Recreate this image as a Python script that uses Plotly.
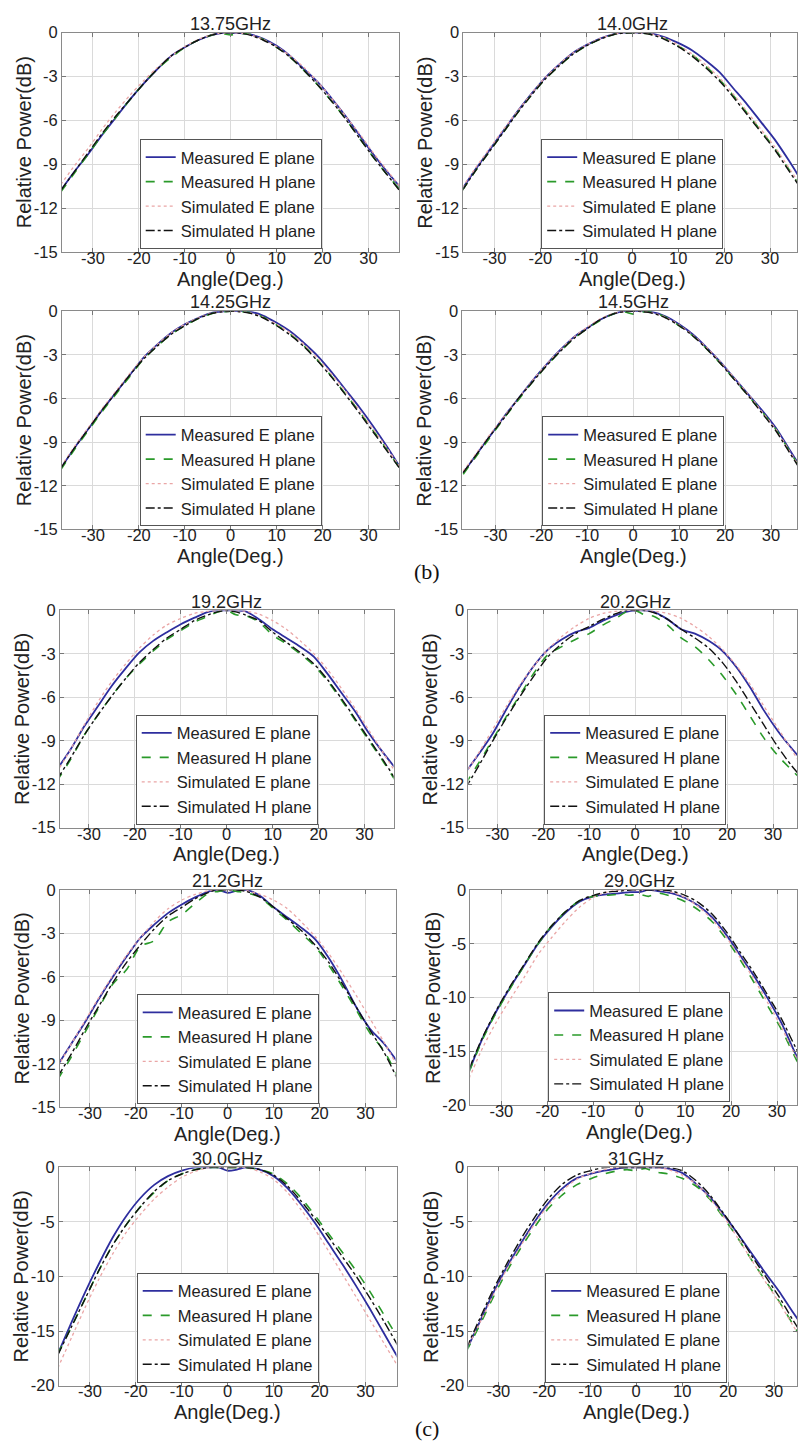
import plotly.graph_objects as go

W, H = 798, 1450

# ---------------- data ----------------
angles = [-37, -34, -31, -28, -25, -22, -19, -16, -13, -10, -7, -4, -2, 0,
          2, 4, 7, 10, 13, 16, 19, 22, 25, 28, 31, 34, 37]

freq_labels = ["13.75GHz", "14.0GHz", "14.25GHz", "14.5GHz", "19.2GHz",
               "20.2GHz", "21.2GHz", "29.0GHz", "30.0GHz", "31GHz"]

series_names = ["Measured E plane", "Measured H plane",
                "Simulated E plane", "Simulated H plane"]

x_ticks = [-30, -20, -10, 0, 10, 20, 30]
y_ticks_15 = [0, -3, -6, -9, -12, -15]
y_ticks_20 = [0, -5, -10, -15, -20]

# 13.75 GHz
me_1375 = [-10.8, -9.5, -8.3, -7.0, -5.8, -4.6, -3.5, -2.5, -1.6, -1.0, -0.5, -0.15, -0.02, 0, -0.02, -0.1, -0.4, -0.9, -1.6, -2.5, -3.4, -4.5, -5.7, -7.0, -8.3, -9.5, -10.6]
mh_1375 = [-10.9, -9.6, -8.3, -7.0, -5.8, -4.6, -3.5, -2.5, -1.7, -1.0, -0.5, -0.15, -0.05, -0.15, -0.05, -0.1, -0.45, -1.0, -1.7, -2.6, -3.6, -4.7, -5.9, -7.2, -8.5, -9.7, -10.8]
se_1375 = [-10.4, -9.1, -7.9, -6.6, -5.4, -4.3, -3.3, -2.4, -1.6, -0.95, -0.45, -0.12, -0.02, 0, -0.02, -0.12, -0.45, -0.95, -1.6, -2.4, -3.4, -4.5, -5.7, -6.9, -8.2, -9.4, -10.6]
sh_1375 = [-10.8, -9.5, -8.2, -6.9, -5.7, -4.6, -3.5, -2.5, -1.6, -1.0, -0.5, -0.15, -0.03, 0, -0.03, -0.15, -0.5, -1.0, -1.7, -2.6, -3.6, -4.7, -5.9, -7.2, -8.5, -9.7, -10.9]

# 14.0 GHz
me_1400 = [-10.7, -9.3, -8.0, -6.7, -5.4, -4.2, -3.1, -2.2, -1.4, -0.85, -0.4, -0.1, 0, 0, 0, -0.05, -0.3, -0.7, -1.2, -1.9, -2.7, -3.8, -4.9, -6.1, -7.3, -8.7, -10.2]
mh_1400 = [-10.8, -9.4, -8.1, -6.8, -5.5, -4.3, -3.2, -2.3, -1.5, -0.9, -0.45, -0.12, -0.03, 0, -0.03, -0.1, -0.4, -0.9, -1.5, -2.3, -3.2, -4.3, -5.5, -6.7, -7.9, -9.3, -10.7]
se_1400 = [-10.6, -9.2, -7.9, -6.6, -5.4, -4.2, -3.1, -2.2, -1.4, -0.85, -0.4, -0.1, 0, 0, -0.02, -0.08, -0.35, -0.85, -1.45, -2.2, -3.1, -4.2, -5.4, -6.6, -7.8, -9.2, -10.6]
sh_1400 = [-10.8, -9.4, -8.1, -6.8, -5.5, -4.3, -3.2, -2.3, -1.5, -0.9, -0.45, -0.12, -0.03, 0, -0.03, -0.12, -0.45, -0.95, -1.6, -2.4, -3.3, -4.4, -5.6, -6.8, -8.0, -9.4, -10.8]

# 14.25 GHz
me_1425 = [-10.8, -9.4, -8.1, -6.8, -5.6, -4.4, -3.2, -2.3, -1.5, -0.9, -0.45, -0.1, -0.02, 0, 0, -0.02, -0.3, -0.8, -1.4, -2.2, -3.1, -4.2, -5.4, -6.6, -7.9, -9.3, -10.8]
mh_1425 = [-10.9, -9.5, -8.2, -6.9, -5.7, -4.5, -3.3, -2.4, -1.6, -1.0, -0.5, -0.15, -0.05, 0, -0.03, -0.08, -0.4, -0.95, -1.6, -2.4, -3.4, -4.5, -5.7, -6.9, -8.2, -9.5, -10.9]
se_1425 = [-10.7, -9.3, -8.0, -6.7, -5.5, -4.3, -3.2, -2.3, -1.5, -0.9, -0.45, -0.12, -0.03, 0, -0.03, -0.1, -0.4, -0.9, -1.5, -2.3, -3.25, -4.35, -5.5, -6.8, -8.1, -9.4, -10.8]
sh_1425 = [-10.8, -9.4, -8.1, -6.8, -5.6, -4.4, -3.3, -2.4, -1.6, -1.0, -0.5, -0.15, -0.04, 0, -0.04, -0.12, -0.45, -1.0, -1.65, -2.45, -3.45, -4.55, -5.75, -7.0, -8.3, -9.6, -10.9]

# 14.5 GHz
me_1450 = [-11.1, -9.8, -8.5, -7.2, -6.0, -4.8, -3.7, -2.7, -1.8, -1.15, -0.55, -0.15, 0, 0, 0, -0.05, -0.35, -0.9, -1.6, -2.5, -3.5, -4.6, -5.7, -6.8, -8.0, -9.5, -11.0]
mh_1450 = [-11.2, -9.9, -8.6, -7.3, -6.1, -4.9, -3.8, -2.8, -1.9, -1.2, -0.6, -0.15, -0.05, -0.2, -0.05, -0.05, -0.4, -1.0, -1.7, -2.6, -3.6, -4.7, -5.8, -6.9, -8.1, -9.6, -11.1]
se_1450 = [-11.0, -9.7, -8.4, -7.2, -6.0, -4.8, -3.7, -2.7, -1.8, -1.1, -0.5, -0.12, -0.02, 0, -0.02, -0.1, -0.4, -0.95, -1.65, -2.5, -3.5, -4.6, -5.7, -6.9, -8.1, -9.6, -11.1]
sh_1450 = [-11.1, -9.8, -8.5, -7.3, -6.0, -4.9, -3.8, -2.8, -1.9, -1.2, -0.55, -0.15, -0.03, 0, -0.03, -0.12, -0.45, -1.0, -1.7, -2.6, -3.6, -4.7, -5.8, -7.0, -8.2, -9.7, -11.2]

# 19.2 GHz
me_1920 = [-11.0, -9.6, -8.0, -6.6, -5.2, -4.0, -2.9, -2.1, -1.5, -0.95, -0.5, -0.1, 0, 0, 0, -0.05, -0.6, -1.3, -1.9, -2.5, -3.2, -4.4, -5.7, -7.0, -8.5, -9.8, -11.0]
mh_1920 = [-11.8, -10.3, -8.6, -7.2, -5.9, -4.7, -3.7, -2.8, -2.0, -1.4, -0.8, -0.4, -0.1, 0, -0.3, -0.35, -0.8, -1.7, -2.3, -3.0, -3.8, -4.9, -6.2, -7.6, -9.0, -10.4, -11.9]
se_1920 = [-11.2, -9.6, -7.9, -6.3, -4.9, -3.7, -2.6, -1.7, -1.0, -0.55, -0.2, -0.05, 0, 0, 0, -0.05, -0.25, -0.7, -1.3, -2.1, -3.0, -4.1, -5.4, -6.8, -8.3, -9.8, -11.3]
sh_1920 = [-11.7, -10.2, -8.6, -7.2, -5.9, -4.7, -3.6, -2.7, -1.9, -1.3, -0.7, -0.3, -0.1, 0, -0.1, -0.3, -0.7, -1.5, -2.2, -2.9, -3.7, -4.8, -6.1, -7.5, -8.9, -10.3, -11.8]

# 20.2 GHz
me_2020 = [-11.2, -9.9, -8.5, -6.8, -5.2, -3.8, -2.7, -2.0, -1.5, -1.2, -0.7, -0.3, -0.1, 0, 0, -0.1, -0.6, -1.3, -1.6, -2.1, -2.8, -3.9, -5.3, -6.9, -8.3, -9.5, -10.6]
mh_2020 = [-12.0, -10.5, -8.9, -7.3, -5.8, -4.3, -3.05, -2.5, -2.0, -1.6, -1.0, -0.5, -0.1, 0, -0.3, -0.4, -1.0, -1.9, -2.5, -3.4, -4.5, -5.8, -7.3, -8.8, -10.0, -11.0, -11.9]
se_2020 = [-11.3, -9.8, -8.2, -6.6, -5.1, -3.8, -2.7, -1.8, -1.1, -0.55, -0.2, -0.05, 0, 0, 0, -0.05, -0.2, -0.55, -1.1, -1.8, -2.7, -3.8, -5.1, -6.6, -8.1, -9.6, -11.1]
sh_2020 = [-12.3, -10.7, -9.0, -7.4, -5.9, -4.5, -3.2, -2.3, -1.6, -1.1, -0.6, -0.2, 0, 0, 0, -0.15, -0.6, -1.3, -1.9, -2.6, -3.6, -4.9, -6.4, -7.9, -9.4, -10.7, -11.8]

# 21.2 GHz
me_2120 = [-12.1, -10.6, -9.1, -7.5, -6.0, -4.6, -3.3, -2.4, -1.6, -1.0, -0.5, -0.1, 0, -0.2, -0.05, 0, -0.4, -1.2, -1.9, -2.6, -3.4, -4.7, -6.3, -8.1, -9.6, -10.6, -11.9]
mh_2120 = [-13.1, -11.5, -9.8, -8.1, -6.5, -5.5, -3.9, -3.5, -2.2, -1.7, -0.9, -0.2, -0.1, 0, -0.1, -0.2, -0.5, -1.3, -2.1, -3.0, -3.9, -5.2, -6.7, -8.3, -9.9, -11.1, -12.9]
se_2120 = [-12.2, -10.6, -9.0, -7.4, -5.9, -4.5, -3.3, -2.2, -1.3, -0.7, -0.3, -0.05, 0, 0, 0, -0.05, -0.3, -0.7, -1.3, -2.2, -3.2, -4.4, -5.8, -7.3, -8.9, -10.5, -12.2]
sh_2120 = [-12.9, -11.3, -9.6, -8.0, -6.4, -5.0, -3.8, -2.7, -1.8, -1.2, -0.6, -0.15, 0, 0, 0, -0.1, -0.5, -1.2, -2.0, -2.8, -3.8, -5.0, -6.5, -8.1, -9.7, -11.2, -13.1]

# 29.0 GHz
me_2900 = [-16.8, -13.7, -11.2, -9.0, -7.0, -5.0, -3.4, -2.1, -1.1, -0.6, -0.4, -0.3, -0.2, -0.2, 0, -0.1, -0.3, -0.75, -1.5, -2.6, -4.2, -6.1, -8.0, -10.1, -12.4, -15.2, -17.5]
mh_2900 = [-16.9, -13.8, -11.3, -9.1, -7.0, -5.0, -3.3, -2.0, -1.0, -0.6, -0.5, -0.4, -0.5, -0.4, -0.6, -0.3, -0.6, -1.1, -1.9, -3.0, -4.6, -6.5, -8.6, -10.8, -13.0, -15.6, -18.0]
se_2900 = [-17.5, -14.6, -12.2, -10.1, -8.1, -6.0, -4.4, -2.9, -1.6, -0.7, -0.2, 0, 0, 0, 0, 0, -0.2, -0.7, -1.6, -2.8, -4.4, -6.3, -8.3, -10.5, -12.8, -15.4, -17.8]
sh_2900 = [-16.6, -13.6, -11.1, -8.9, -6.9, -4.9, -3.3, -2.0, -1.0, -0.5, -0.2, -0.1, 0, 0, 0, 0, -0.1, -0.5, -1.2, -2.3, -3.9, -5.8, -7.7, -9.8, -12.0, -14.6, -17.0]

# 30.0 GHz
me_3000 = [-17.1, -14.2, -11.4, -8.8, -6.4, -4.4, -2.8, -1.6, -0.8, -0.3, 0, 0, 0, -0.3, -0.2, 0, -0.2, -0.8, -1.9, -3.4, -5.1, -7.0, -8.9, -10.9, -13.0, -15.2, -17.4]
mh_3000 = [-17.1, -14.6, -12.0, -9.4, -7.1, -5.2, -3.6, -2.3, -1.2, -0.6, -0.2, 0, 0, 0, 0, 0, -0.2, -0.6, -1.5, -2.8, -4.4, -6.1, -7.8, -9.5, -11.4, -13.5, -15.6]
se_3000 = [-18.4, -15.6, -12.8, -10.2, -7.9, -5.9, -4.3, -2.9, -1.8, -0.9, -0.35, 0, 0, 0, 0, 0, -0.4, -1.1, -2.3, -3.9, -5.7, -7.7, -9.8, -11.9, -14.0, -16.1, -18.2]
sh_3000 = [-17.2, -14.6, -12.0, -9.4, -7.1, -5.2, -3.6, -2.2, -1.2, -0.6, -0.2, 0, 0, 0, 0, 0, -0.2, -0.7, -1.7, -3.1, -4.7, -6.4, -8.2, -10.0, -12.0, -14.1, -16.3]

# 31 GHz
me_3100 = [-16.8, -14.1, -11.4, -9.0, -6.9, -4.9, -3.2, -1.9, -1.0, -0.6, -0.3, -0.1, 0, 0, 0, 0, -0.1, -0.5, -1.5, -2.7, -4.3, -6.0, -7.8, -9.6, -11.3, -13.2, -15.0]
mh_3100 = [-16.9, -14.4, -11.8, -9.4, -7.3, -5.4, -3.7, -2.5, -1.6, -1.05, -0.6, -0.3, -0.2, -0.3, -0.1, -0.4, -0.6, -1.0, -1.7, -2.9, -4.6, -6.4, -8.4, -10.3, -12.2, -14.3, -16.3]
se_3100 = [-16.7, -14.2, -11.6, -9.2, -7.1, -5.1, -3.4, -2.1, -1.1, -0.55, -0.2, 0, 0, 0, 0, 0, -0.2, -0.7, -1.5, -2.8, -4.5, -6.4, -8.4, -10.4, -12.3, -14.4, -16.4]
sh_3100 = [-16.6, -13.8, -11.1, -8.7, -6.5, -4.5, -2.8, -1.5, -0.7, -0.3, 0, 0, 0, 0, 0, 0, 0, -0.3, -1.2, -2.5, -4.2, -6.0, -8.0, -9.9, -11.8, -13.9, -15.9]

panel_data = [
    (me_1375, mh_1375, se_1375, sh_1375),
    (me_1400, mh_1400, se_1400, sh_1400),
    (me_1425, mh_1425, se_1425, sh_1425),
    (me_1450, mh_1450, se_1450, sh_1450),
    (me_1920, mh_1920, se_1920, sh_1920),
    (me_2020, mh_2020, se_2020, sh_2020),
    (me_2120, mh_2120, se_2120, sh_2120),
    (me_2900, mh_2900, se_2900, sh_2900),
    (me_3000, mh_3000, se_3000, sh_3000),
    (me_3100, mh_3100, se_3100, sh_3100),
]
panel_ymin = [-15, -15, -15, -15, -15, -15, -15, -20, -20, -20]

# ---------------- geometry (pixels) ----------------
# left edge, x=0 position, top, bottom
geom = [
    (62, 231, 24, 246), (464, 633, 24, 246),
    (62, 231, 306, 527), (463, 634, 306, 527),
    (60, 227, 609, 829), (469, 636, 609, 829),
    (60, 228, 892, 1112), (471, 640, 892, 1110),
    (59, 228, 1173, 1394), (469, 637, 1173, 1394),
]
PX_PER_DEG = 4.6

styles = [
    dict(color="#2e2e9e", width=1.8, dash="solid"),
    dict(color="#2a9a2a", width=1.6, dash="dash"),
    dict(color="#eaa6a6", width=1.3, dash="dot"),
    dict(color="#111111", width=1.4, dash="dashdot"),
]

SANS = "Liberation Sans, Arial, Helvetica, sans-serif"
TXT = "#222222"

fig = go.Figure()
layout = dict(
    width=W, height=H, margin=dict(l=0, r=0, t=0, b=0),
    paper_bgcolor="white", plot_bgcolor="white",
    font=dict(family=SANS, color=TXT),
    showlegend=True,
)
annotations = []

for i, (data, ymin, (L, x0, T, B)) in enumerate(zip(panel_data, panel_ymin, geom)):
    k = i + 1
    R = min(2 * x0 - L, W)
    xr = [(L - x0) / PX_PER_DEG, (R - x0) / PX_PER_DEG]
    xa = "xaxis" if k == 1 else f"xaxis{k}"
    ya = "yaxis" if k == 1 else f"yaxis{k}"
    xref = "x" if k == 1 else f"x{k}"
    yref = "y" if k == 1 else f"y{k}"
    lg = "legend" if k == 1 else f"legend{k}"

    for name, ys, st in zip(series_names, data, styles):
        fig.add_trace(go.Scatter(
            x=angles, y=ys, name=name, mode="lines",
            line=dict(color=st["color"], width=st["width"], dash=st["dash"],
                      shape="spline", smoothing=0.8),
            xaxis=xref, yaxis=yref, legend=lg,
        ))

    yt = y_ticks_15 if ymin == -15 else y_ticks_20
    layout[xa] = dict(
        domain=[L / W, R / W], range=xr, anchor=yref,
        tickvals=x_ticks, ticktext=[str(v) for v in x_ticks],
        tickfont=dict(size=16.5, color=TXT), ticks="inside", ticklen=4,
        ticklabelstandoff=-9,
        tickcolor="#777", showgrid=True, gridcolor="#dadada", gridwidth=1,
        showline=True, linecolor="#8a8a8a", linewidth=1, mirror="ticks",
        zeroline=False, fixedrange=True,
    )
    layout[ya] = dict(
        domain=[1 - B / H, 1 - T / H], range=[ymin, 0], anchor=xref,
        tickvals=yt, ticktext=[str(v) for v in yt],
        tickfont=dict(size=16.5, color=TXT), ticks="inside", ticklen=4,
        tickcolor="#777", showgrid=True, gridcolor="#dadada", gridwidth=1,
        showline=True, linecolor="#8a8a8a", linewidth=1, mirror="ticks",
        zeroline=False, fixedrange=True,
    )
    layout[lg] = dict(
        x=x0 / W, y=1 - (B - 3) / H, xanchor="center", yanchor="bottom",
        xref="paper", yref="paper",
        bgcolor="white", bordercolor="#555", borderwidth=1,
        font=dict(size=16.5, family=SANS, color=TXT), tracegroupgap=0,
    )
    # panel title
    annotations.append(dict(
        text=freq_labels[i], x=x0 / W, y=1 - (T - 9) / H, xref="paper", yref="paper",
        xanchor="center", yanchor="middle", showarrow=False,
        font=dict(size=18, family=SANS, color=TXT)))
    # x axis title
    annotations.append(dict(
        text="Angle(Deg.)", x=x0 / W, y=1 - (B + 27) / H, xref="paper", yref="paper",
        xanchor="center", yanchor="middle", showarrow=False,
        font=dict(size=20, family=SANS, color=TXT)))
    # y axis title
    annotations.append(dict(
        text="Relative Power(dB)", x=(L - 38) / W, y=1 - ((T + B) / 2) / H,
        xref="paper", yref="paper", xanchor="center", yanchor="middle",
        textangle=-90, showarrow=False,
        font=dict(size=20, family=SANS, color=TXT)))

# figure part labels
for lab, cy in (("(b)", 570), ("(c)", 1437)):
    annotations.append(dict(
        text=lab, x=428 / W, y=1 - cy / H, xref="paper", yref="paper",
        xanchor="center", yanchor="middle", showarrow=False,
        font=dict(size=22, family="Liberation Serif, Times New Roman, serif", color="#111")))

layout["annotations"] = annotations
fig.update_layout(**layout)
fig.write_html("out.html")
